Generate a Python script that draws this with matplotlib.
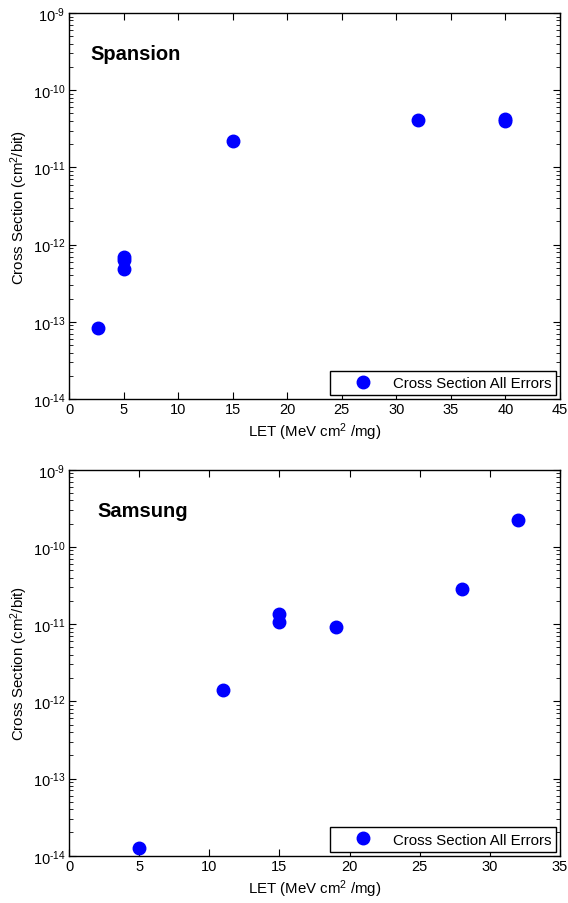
import matplotlib
matplotlib.use("Agg")
import matplotlib.pyplot as plt
from matplotlib.ticker import LogLocator, NullFormatter, FuncFormatter
import numpy as np

plt.rcParams["font.family"] = ["Liberation Sans", "DejaVu Sans"]
plt.rcParams["mathtext.fontset"] = "custom"
plt.rcParams["mathtext.rm"] = "Liberation Sans"
plt.rcParams["mathtext.it"] = "Liberation Sans"

# Spansion data
spansion_let = [2.7, 5.0, 5.0, 5.0, 15.0, 32.0, 40.0, 40.0]
spansion_xs = [8.4e-14, 6.9e-13, 6.3e-13, 4.9e-13, 2.2e-11, 4.1e-11, 4.2e-11, 4.0e-11]

# Samsung data
samsung_let = [5.0, 11.0, 15.0, 15.0, 19.0, 28.0, 32.0]
samsung_xs = [1.25e-14, 1.42e-12, 1.34e-11, 1.06e-11, 9.3e-12, 2.87e-11, 2.2e-10]

panels = [
    ("Spansion", spansion_let, spansion_xs, 45, range(0, 46, 5), 0.5575, 0.043),
    ("Samsung", samsung_let, samsung_xs, 35, range(0, 36, 5), 0.0523, 0.057),
]


def log_label(v, pos):
    e = int(np.round(np.log10(v)))
    return "10$^{\\text{%d}}$" % e


fig = plt.figure(figsize=(5.68, 9.04), dpi=100)

for name, let, xs, xmax, xticks, bottom, tx in panels:
    ax = fig.add_axes([0.1215, bottom, 0.8645, 0.427])
    ax.plot(let, xs, "o", color="#0000ff", markersize=9, label="Cross Section All Errors")
    ax.set_yscale("log")
    ax.set_ylim(1e-14, 1e-9)
    ax.set_xlim(0, xmax)
    ax.set_xticks(list(xticks))
    ax.yaxis.set_major_locator(LogLocator(base=10, numticks=10))
    ax.yaxis.set_major_formatter(FuncFormatter(log_label))
    ax.yaxis.set_minor_locator(LogLocator(base=10, subs=range(2, 10), numticks=20))
    ax.yaxis.set_minor_formatter(NullFormatter())
    ax.tick_params(which="both", direction="in", top=True, right=True, labelsize=10.5, pad=2.5)
    ax.tick_params(which="major", length=5)
    ax.tick_params(which="minor", length=3)
    for s in ax.spines.values():
        s.set_linewidth(1.0)
    ax.set_xlabel("LET (MeV cm$^2$ /mg)", fontsize=10.8, labelpad=3)
    ax.set_ylabel("Cross Section (cm$^2$/bit)", fontsize=10.8, labelpad=2)
    ax.text(tx, 0.894, name, transform=ax.transAxes, fontsize=14.5,
            fontweight="bold", va="center")
    leg = ax.legend(loc="lower right", fontsize=10.8, fancybox=False,
                    edgecolor="black", framealpha=1, borderpad=0.35,
                    handlelength=3.6, handletextpad=0.2, borderaxespad=0.25)
    leg.get_frame().set_linewidth(1.0)

fig.savefig("out.png", dpi=100)
